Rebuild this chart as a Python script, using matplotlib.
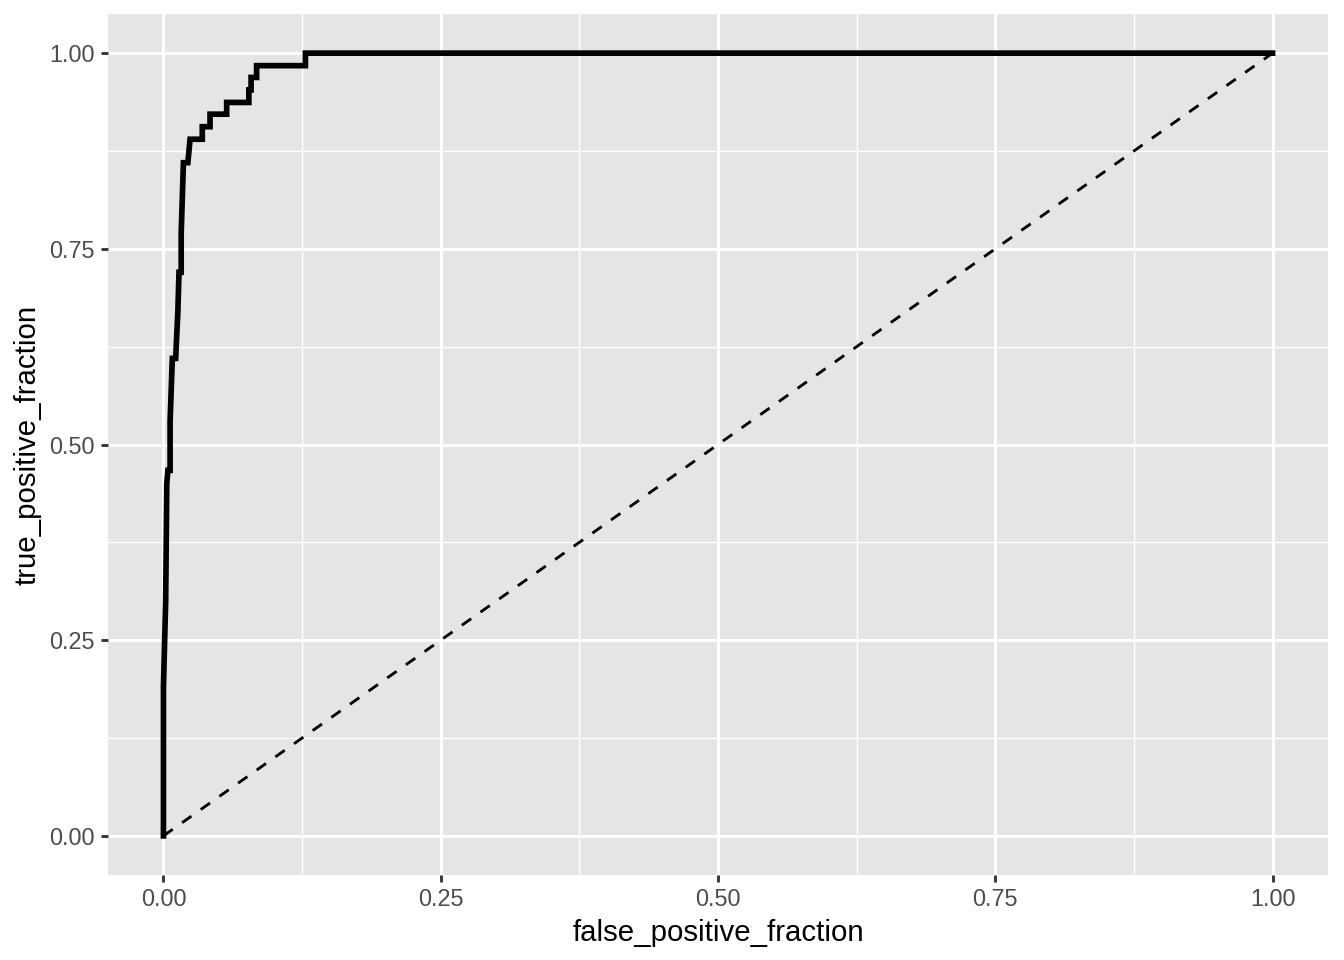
import numpy as np
import matplotlib
matplotlib.use('Agg')
import matplotlib.pyplot as plt

# --- ROC curve points ---
fpr = [0.0, 0.0, 0.002, 0.003, 0.004, 0.006, 0.006, 0.008, 0.011, 0.013,
       0.014, 0.016, 0.016, 0.018, 0.022, 0.024, 0.035, 0.035, 0.042, 0.042,
       0.057, 0.057, 0.077, 0.077, 0.079, 0.079, 0.084, 0.084, 0.128, 0.128, 1.0]
tpr = [0.0, 0.19, 0.30, 0.45, 0.467, 0.467, 0.53, 0.61, 0.61, 0.67,
       0.72, 0.72, 0.77, 0.86, 0.86, 0.89, 0.89, 0.906, 0.906, 0.922,
       0.922, 0.937, 0.937, 0.953, 0.953, 0.969, 0.969, 0.984, 0.984, 1.0, 1.0]

ticks = [0.0, 0.25, 0.50, 0.75, 1.00]
tick_labels = ["0.00", "0.25", "0.50", "0.75", "1.00"]
minor = [0.125, 0.375, 0.625, 0.875]

plt.rcParams['font.family'] = ['Liberation Sans', 'DejaVu Sans']

fig = plt.figure(figsize=(7, 5), dpi=192)
ax = fig.add_axes([108 / 1344, 1 - 875 / 960, (1328 - 108) / 1344, (875 - 14) / 960])
ax.set_facecolor('#E5E5E5')
for s in ax.spines.values():
    s.set_visible(False)

# --- grid ---
for v in minor:
    ax.axvline(v, color='white', lw=0.53, zorder=1)
    ax.axhline(v, color='white', lw=0.53, zorder=1)
for v in ticks:
    ax.axvline(v, color='white', lw=1.07, zorder=1)
    ax.axhline(v, color='white', lw=1.07, zorder=1)

# --- curves ---
ax.plot([0, 1], [0, 1], color='black', lw=1.07, dashes=(4, 4), zorder=3)
ax.plot(fpr, tpr, color='black', lw=2.13, solid_joinstyle='miter', zorder=4)

ax.set_xlim(-0.05, 1.05)
ax.set_ylim(-0.05, 1.05)
ax.set_xticks(ticks)
ax.set_xticklabels(tick_labels)
ax.set_yticks(ticks)
ax.set_yticklabels(tick_labels)
ax.tick_params(axis='both', length=2.75, width=1.07, color='#333333',
               labelsize=8.8, labelcolor='#4D4D4D', pad=2.2)

ax.set_xlabel("false_positive_fraction", fontsize=11, labelpad=2.75)
ax.set_ylabel("true_positive_fraction", fontsize=11, labelpad=2.75)

fig.savefig('out.png', dpi=192)
